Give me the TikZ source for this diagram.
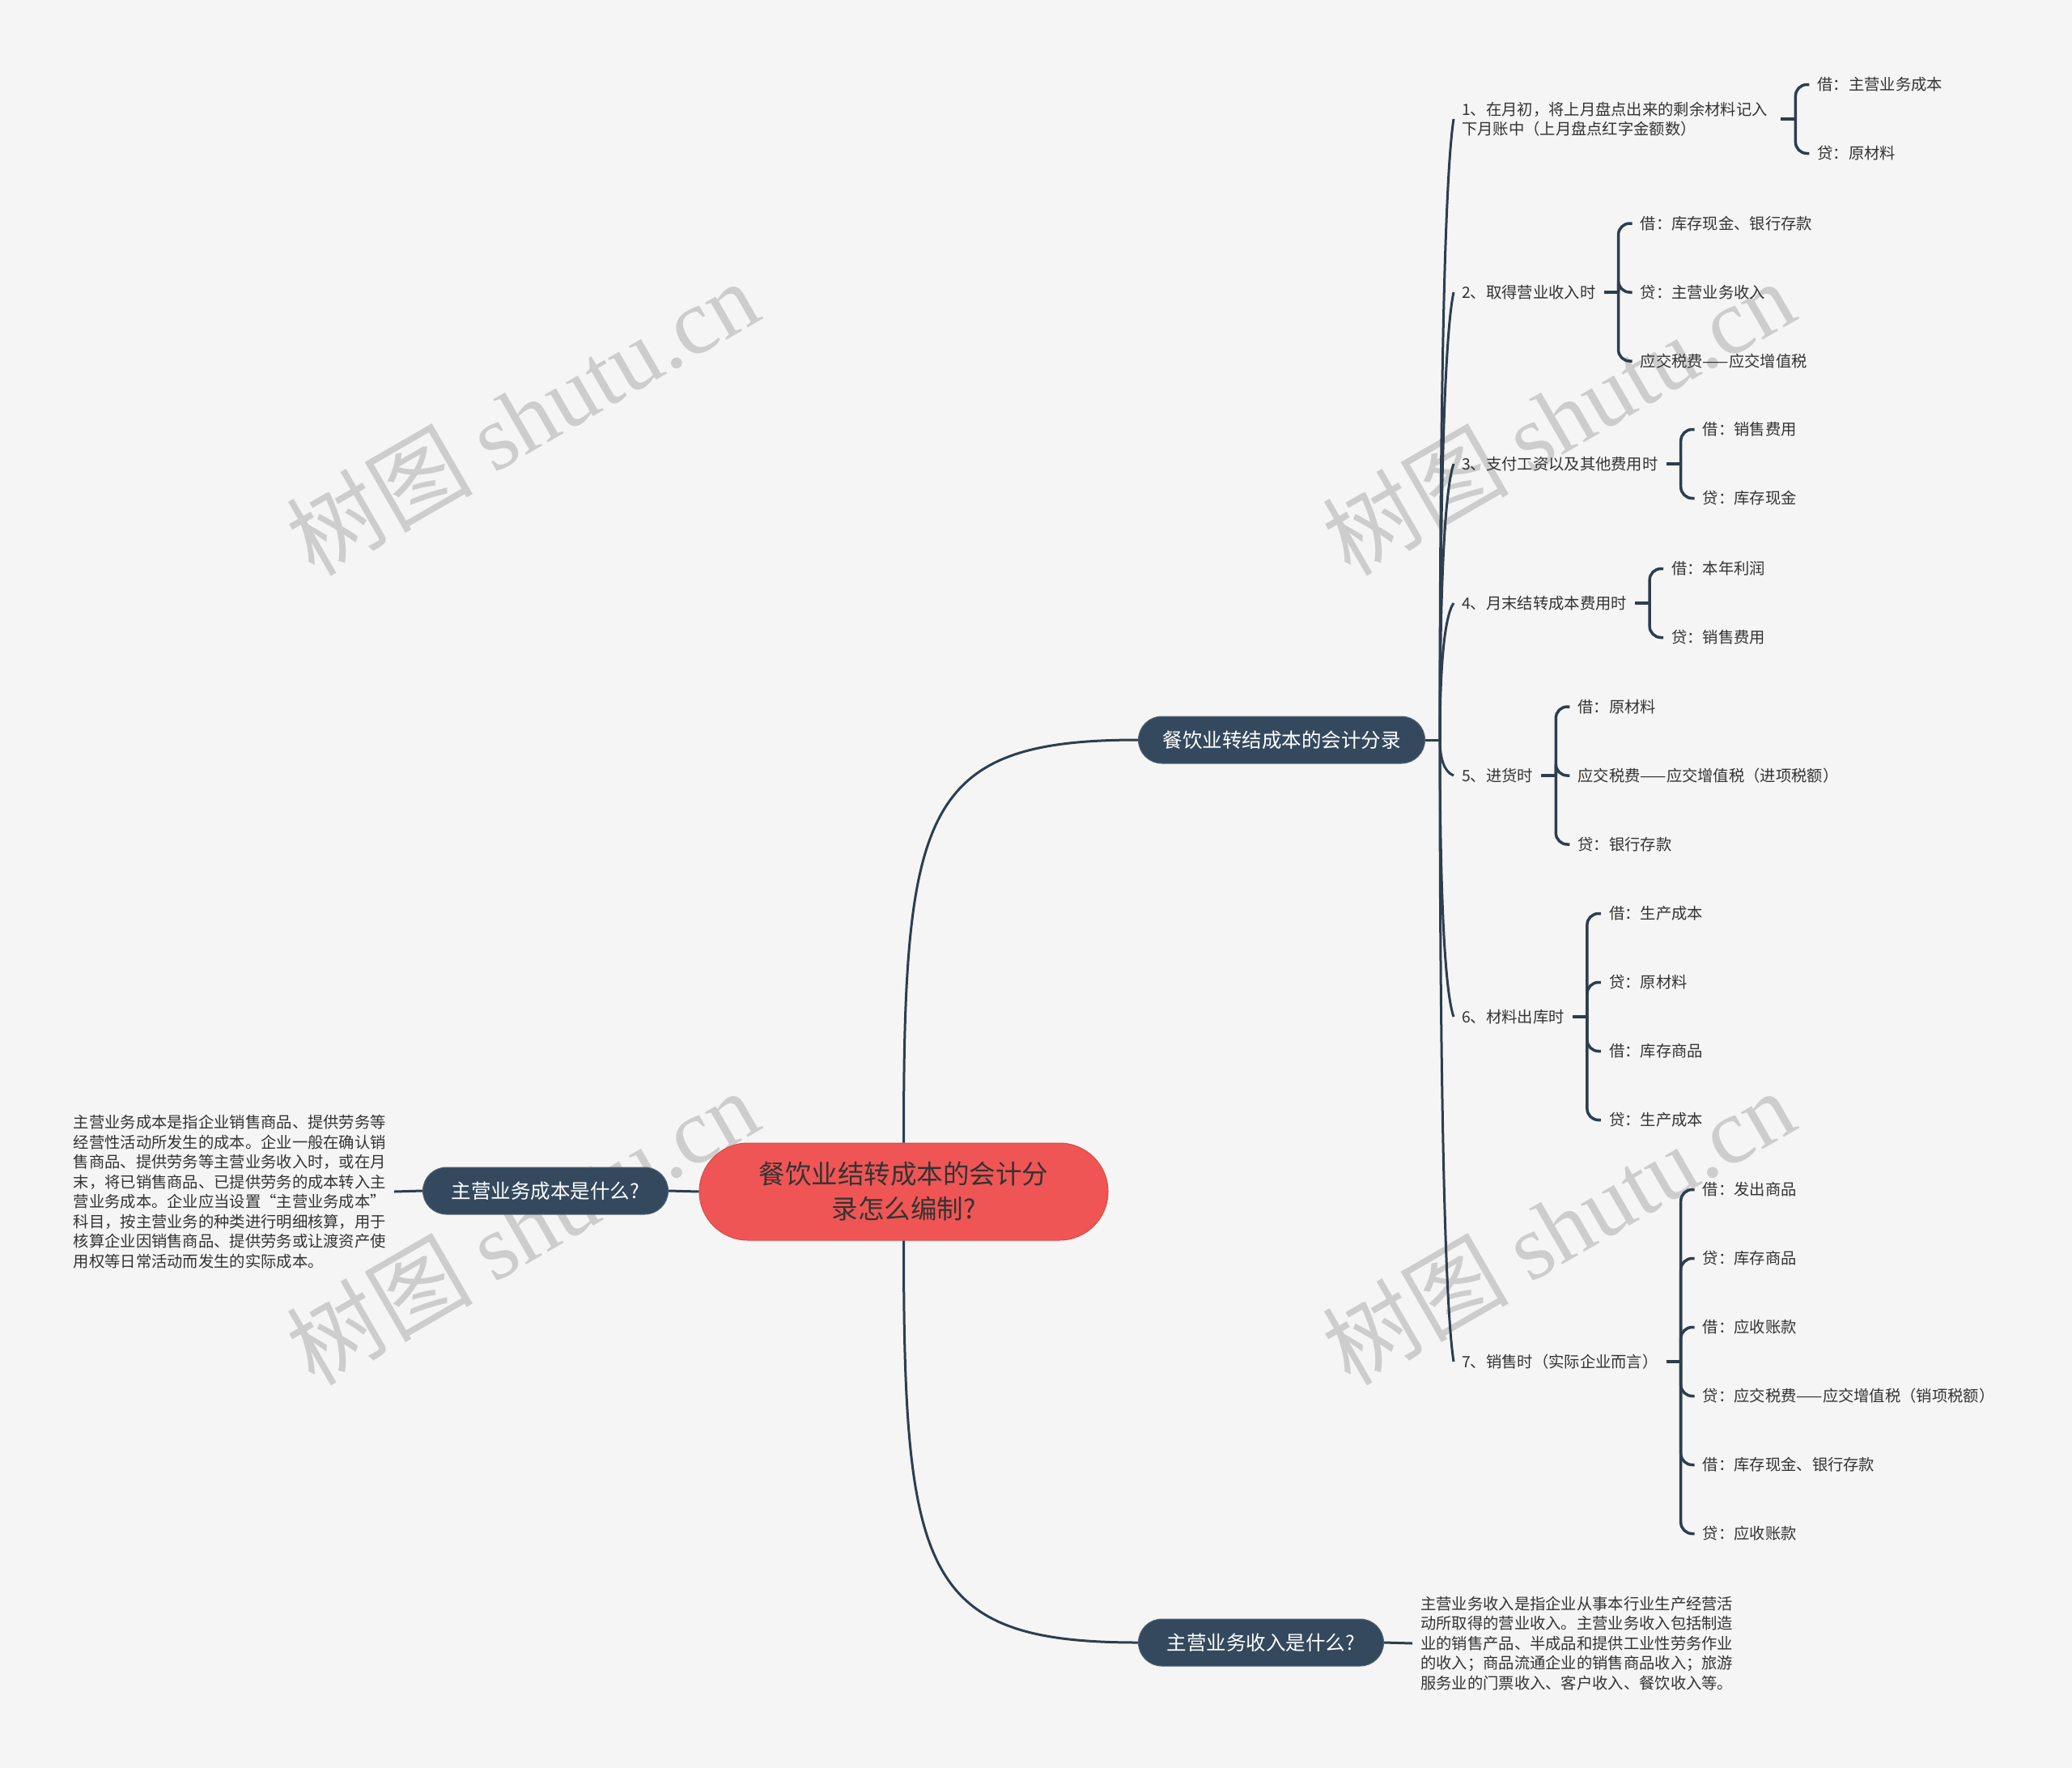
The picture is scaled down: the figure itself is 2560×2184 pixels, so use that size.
\documentclass[tikz,border=0pt]{standalone}
\usepackage{fontspec}
\setmainfont{Noto Sans CJK SC}
\newfontfamily\wmserif{Liberation Serif}
\usetikzlibrary{calc}
\definecolor{bgc}{HTML}{F5F5F5}
\definecolor{navy}{HTML}{34495E}
\definecolor{linec}{HTML}{2C3E50}
\definecolor{rootred}{HTML}{F05555}
\definecolor{rootedge}{HTML}{D94848}
\definecolor{txt}{HTML}{333333}
\definecolor{wmc}{HTML}{CDCDCD}
\begin{document}
\begin{tikzpicture}[x=1pt,y=-1pt,
  leaf/.style={anchor=west, inner xsep=10pt, inner ysep=2pt, text=txt, font=\fontsize{19.3pt}{24.5pt}\selectfont},
  para/.style={leaf, align=left},
  branch/.style={fill=navy, draw=navy!85!white, line width=1pt, rounded corners=29pt, minimum height=58pt, inner xsep=30pt, text=white, font=\fontsize{24.5pt}{30pt}\selectfont},
  rootbox/.style={fill=rootred, draw=rootedge, line width=1pt, rounded corners=60pt, minimum width=505pt, minimum height=120pt, align=center, text=txt, font=\fontsize{32.5pt}{43pt}\selectfont},
  conn/.style={draw=linec, line width=3pt},
  brk/.style={draw=linec, line width=3.5pt, rounded corners=14pt},
  wm/.style={text=wmc, rotate=30, font=\fontsize{115pt}{120pt}\selectfont}
]
\useasboundingbox (0,0) rectangle (2560,2184);
\fill[bgc] (0,0) rectangle (2560,2184);

% watermarks
\node[wm] (w1) at (645,515) {树图 {\wmserif shutu.cn}};
\node[wm] (w2) at (1925,515) {树图 {\wmserif shutu.cn}};
\node[wm] (w3) at (645,1515) {树图 {\wmserif shutu.cn}};
\node[wm] (w4) at (1925,1515) {树图 {\wmserif shutu.cn}};

% main nodes
\node[rootbox] (root) at (1116.5,1472) {餐饮业结转成本的会计分\\录怎么编制?};
\node[branch, anchor=west] (b1) at (1406,914) {餐饮业转结成本的会计分录};
\node[branch, anchor=west, minimum width=303pt] (b2) at (1406,2029) {主营业务收入是什么?};
\node[branch, anchor=east, minimum width=303pt] (b3) at (826,1471) {主营业务成本是什么?};

\draw[conn] (root.north) .. controls +(0,-412) and +(-266,0) .. (b1.west);
\draw[conn] (root.south) .. controls +(0,412) and +(-266,0) .. (b2.west);
\draw[conn] (root.west) -- (b3.east);

% text blocks
\node[para, anchor=east] (tL) at (487,1472) {主营业务成本是指企业销售商品、提供劳务等\\经营性活动所发生的成本。企业一般在确认销\\售商品、提供劳务等主营业务收入时，或在月\\末，将已销售商品、已提供劳务的成本转入主\\营业务成本。企业应当设置“主营业务成本”\\科目，按主营业务的种类进行明细核算，用于\\核算企业因销售商品、提供劳务或让渡资产使\\用权等日常活动而发生的实际成本。};
\draw[conn] (tL.east) -- (b3.west);
\node[para] (tR) at (1745,2030) {主营业务收入是指企业从事本行业生产经营活\\动所取得的营业收入。主营业务收入包括制造\\业的销售产品、半成品和提供工业性劳务作业\\的收入；商品流通企业的销售商品收入；旅游\\服务业的门票收入、客户收入、餐饮收入等。};
\draw[conn] (b2.east) -- (tR.west);

% spine
\coordinate (J) at ($(b1.east)+(18,0)$);
\draw[conn] (b1.east) -- (J);

\node[leaf, align=left, text width=384pt] (c1) at (1796,147) {1、在月初，将上月盘点出来的剩余材料记入\\下月账中（上月盘点红字金额数）};
\node[leaf] (c2) at (1796,361) {2、取得营业收入时};
\node[leaf] (c3) at (1796,573) {3、支付工资以及其他费用时};
\node[leaf] (c4) at (1796,745) {4、月末结转成本费用时};
\node[leaf] (c5) at (1796,958) {5、进货时};
\node[leaf] (c6) at (1796,1256) {6、材料出库时};
\node[leaf] (c7) at (1796,1682) {7、销售时（实际企业而言）};

\draw[conn] (J) .. controls +(0,-383.5) and +(-12,76.7) .. (c1.west);
\draw[conn] (J) .. controls +(0,-276.5) and +(-12,55.3) .. (c2.west);
\draw[conn] (J) .. controls +(0,-170.5) and +(-12,34.1) .. (c3.west);
\draw[conn] (J) .. controls +(0,-84.5) and +(-12,16.9) .. (c4.west);
\draw[conn] (J) .. controls +(0,22) and +(-12,-4.4) .. (c5.west);
\draw[conn] (J) .. controls +(0,171) and +(-12,-34.2) .. (c6.west);
\draw[conn] (J) .. controls +(0,384) and +(-12,-76.8) .. (c7.west);

% child 1
\coordinate (k1) at ($(c1.east)+(18,0)$);
\node[leaf] (s11) at ($(k1)+(17,-42.5)$) {借：主营业务成本};
\node[leaf] (s12) at ($(k1)+(17,42.5)$) {贷：原材料};
\draw[brk] (c1.east) -- (k1);
\foreach \s in {s11,s12} \draw[brk] (k1) |- (\s.west);

% child 2
\coordinate (k2) at ($(c2.east)+(18,0)$);
\node[leaf] (s21) at ($(k2)+(17,-85)$) {借：库存现金、银行存款};
\node[leaf] (s22) at ($(k2)+(17,0)$) {贷：主营业务收入};
\node[leaf] (s23) at ($(k2)+(17,85)$) {应交税费——应交增值税};
\draw[brk] (c2.east) -- (k2);
\foreach \s in {s21,s22,s23} \draw[brk] (k2) |- (\s.west);

% child 3
\coordinate (k3) at ($(c3.east)+(18,0)$);
\node[leaf] (s31) at ($(k3)+(17,-42.5)$) {借：销售费用};
\node[leaf] (s32) at ($(k3)+(17,42.5)$) {贷：库存现金};
\draw[brk] (c3.east) -- (k3);
\foreach \s in {s31,s32} \draw[brk] (k3) |- (\s.west);

% child 4
\coordinate (k4) at ($(c4.east)+(18,0)$);
\node[leaf] (s41) at ($(k4)+(17,-42.5)$) {借：本年利润};
\node[leaf] (s42) at ($(k4)+(17,42.5)$) {贷：销售费用};
\draw[brk] (c4.east) -- (k4);
\foreach \s in {s41,s42} \draw[brk] (k4) |- (\s.west);

% child 5
\coordinate (k5) at ($(c5.east)+(18,0)$);
\node[leaf] (s51) at ($(k5)+(17,-85)$) {借：原材料};
\node[leaf] (s52) at ($(k5)+(17,0)$) {应交税费——应交增值税（进项税额）};
\node[leaf] (s53) at ($(k5)+(17,85)$) {贷：银行存款};
\draw[brk] (c5.east) -- (k5);
\foreach \s in {s51,s52,s53} \draw[brk] (k5) |- (\s.west);

% child 6
\coordinate (k6) at ($(c6.east)+(18,0)$);
\node[leaf] (s61) at ($(k6)+(17,-127.5)$) {借：生产成本};
\node[leaf] (s62) at ($(k6)+(17,-42.5)$) {贷：原材料};
\node[leaf] (s63) at ($(k6)+(17,42.5)$) {借：库存商品};
\node[leaf] (s64) at ($(k6)+(17,127.5)$) {贷：生产成本};
\draw[brk] (c6.east) -- (k6);
\foreach \s in {s61,s62,s63,s64} \draw[brk] (k6) |- (\s.west);

% child 7
\coordinate (k7) at ($(c7.east)+(18,0)$);
\node[leaf] (s71) at ($(k7)+(17,-212.5)$) {借：发出商品};
\node[leaf] (s72) at ($(k7)+(17,-127.5)$) {贷：库存商品};
\node[leaf] (s73) at ($(k7)+(17,-42.5)$) {借：应收账款};
\node[leaf] (s74) at ($(k7)+(17,42.5)$) {贷：应交税费——应交增值税（销项税额）};
\node[leaf] (s75) at ($(k7)+(17,127.5)$) {借：库存现金、银行存款};
\node[leaf] (s76) at ($(k7)+(17,212.5)$) {贷：应收账款};
\draw[brk] (c7.east) -- (k7);
\foreach \s in {s71,s72,s73,s74,s75,s76} \draw[brk] (k7) |- (\s.west);
\end{tikzpicture}
\end{document}
